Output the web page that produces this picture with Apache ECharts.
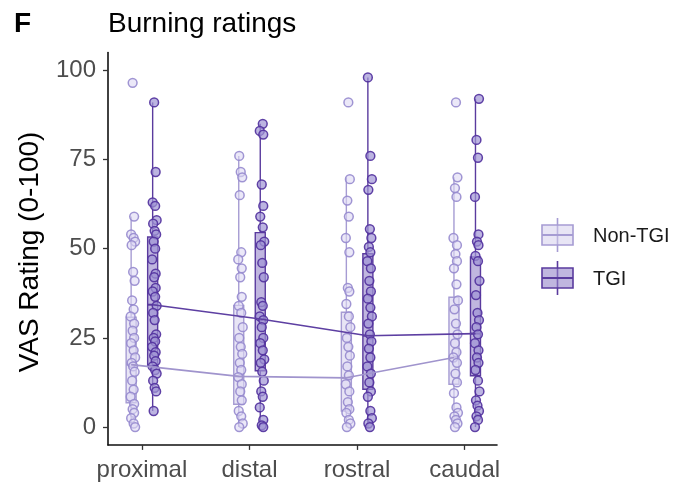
<!DOCTYPE html>
<html><head><meta charset="utf-8">
<script src="https://cdn.jsdelivr.net/npm/echarts@6/dist/echarts.min.js"></script>
<style>html,body{margin:0;padding:0;background:#fff}#c{width:678px;height:486px}</style>
</head><body><div id="c"></div>
<script>
const categories = ['proximal', 'distal', 'rostral', 'caudal'];
const groups = ['Non-TGI', 'TGI'];
const yTicks = [0, 25, 50, 75, 100];

// box statistics per category: [lower whisker, Q1, median, Q3, upper whisker]
const boxNonTGI = [[0, 6.8, 17.5, 30.8, 59], [0, 6.4, 14.2, 34.1, 76], [0, 4.5, 13.8, 32.2, 70], [0, 12, 19.5, 36.4, 70]];
const boxTGI = [[4.5, 17.2, 34.3, 53.3, 91], [0, 15.8, 30.3, 54.5, 85], [0, 10.6, 25.6, 48.6, 98], [0, 14.4, 26.2, 47.7, 92]];

// individual ratings
const nonTGI_proximal = [96.5, 59, 54, 53, 52, 51, 43.5, 41, 35.5, 33, 31, 29, 27, 25, 23.5, 21.5, 19.5, 18, 17, 15.5, 13, 10.5, 8.5, 6.5, 5, 4, 2.5, 1, 0];
const nonTGI_distal = [76, 71.5, 70, 65, 49, 47, 44.5, 42, 36.5, 34, 32, 28, 25, 22.5, 20.5, 18, 16, 14, 12, 10, 7.5, 4.5, 3, 1, 0];
const nonTGI_rostral = [91, 69.5, 63.5, 59, 53, 49, 39, 38, 34.5, 31, 28, 25, 22.5, 20, 17, 14.5, 12, 10, 7, 5, 4, 2, 1, 0];
const nonTGI_caudal = [91, 70, 67, 64.5, 53, 51, 48.5, 46.5, 44.5, 40, 35.5, 33, 29, 26, 23.5, 21, 19.5, 18, 15, 12.5, 9.5, 5.5, 4, 3, 2, 1, 0];
const tgi_proximal = [91, 71.5, 63, 62, 58, 57, 55, 54, 52, 50, 47, 43, 42, 39, 38, 36.5, 34, 32, 30, 26, 25, 24, 22.5, 21, 20, 18.5, 17, 16, 15, 13, 11, 10, 4.5];
const tgi_distal = [85, 83, 82, 68, 62, 59, 56, 52, 51, 46, 42, 35, 34, 31, 30, 28, 25, 23.5, 21.5, 19, 18, 15.5, 13, 10, 8.5, 5.5, 2, 0.5, 0];
const tgi_rostral = [98, 76, 69.5, 66.5, 55.5, 53, 50.5, 49, 46.5, 44.5, 41, 38, 36, 33.5, 31, 29, 26, 24, 22, 19.5, 17, 15, 12.5, 10, 8.5, 4.5, 2.5, 1, 0];
const tgi_caudal = [92, 80.5, 75.5, 64.5, 54, 52, 51, 48, 46.5, 41, 37, 32, 30, 28, 26, 23.5, 21.5, 19.5, 18, 16, 13, 10, 7.5, 6, 4.5, 3, 2, 0];

const ptsNonTGI = [nonTGI_proximal, nonTGI_distal, nonTGI_rostral, nonTGI_caudal];
const ptsTGI = [tgi_proximal, tgi_distal, tgi_rostral, tgi_caudal];

const DODGE = 0.1;
const COL = {
  'Non-TGI': {stroke: '#a69cd3', fill: 'rgba(210,203,236,0.5)', pStroke: 'rgba(150,137,206,0.9)', pFill: 'rgba(222,217,243,0.6)', line: '#a094cd'},
  'TGI': {stroke: '#5a3b9e', fill: 'rgba(150,134,202,0.6)', pStroke: 'rgba(82,50,158,0.92)', pFill: 'rgba(160,148,212,0.7)', line: '#5d3fa2'}
};
const JIT = [1.5, 3, 0, 2.5, 4, 0.5, 2, 3.5, 1, 2.5, -0.5, 3];

function boxData(stats, off) { return stats.map((s, i) => [i + 1 + off].concat(s)); }
function ptData(lists, off) {
  const out = [];
  lists.forEach((l, i) => l.forEach(v => out.push([i + 1 + off, v])));
  return out;
}
function boxSeries(stats, off, c) {
  return {
    type: 'custom', data: boxData(stats, off), z: 2,
    renderItem: function (params, api) {
      const x = api.value(0);
      const pLo = api.coord([x, api.value(1)]), pQ1 = api.coord([x, api.value(2)]),
        pMed = api.coord([x, api.value(3)]), pQ3 = api.coord([x, api.value(4)]), pHi = api.coord([x, api.value(5)]);
      const hw = 5, cx = pMed[0];
      const ls = {stroke: c.stroke, lineWidth: 1.4};
      return {type: 'group', children: [
        {type: 'line', shape: {x1: cx, y1: pHi[1], x2: cx, y2: pQ3[1]}, style: ls},
        {type: 'line', shape: {x1: cx, y1: pQ1[1], x2: cx, y2: pLo[1]}, style: ls},
        {type: 'rect', shape: {x: cx - hw, y: pQ3[1], width: hw * 2, height: pQ1[1] - pQ3[1]}, style: {fill: c.fill, stroke: c.stroke, lineWidth: 1.4}},
        {type: 'line', shape: {x1: cx - hw, y1: pMed[1], x2: cx + hw, y2: pMed[1]}, style: {stroke: c.stroke, lineWidth: 2}}
      ]};
    }
  };
}
function ptSeries(lists, off, c) {
  return {
    type: 'custom', data: ptData(lists, off), z: 3,
    renderItem: function (params, api) {
      const p = api.coord([api.value(0), api.value(1)]);
      return {type: 'circle', shape: {cx: p[0] + JIT[params.dataIndex % JIT.length], cy: p[1], r: 4.4},
        style: {fill: c.pFill, stroke: c.pStroke, lineWidth: 1.5}};
    }
  };
}
function medLine(stats, off, c) {
  return {type: 'line', data: stats.map((s, i) => [i + 1 + off, s[2]]), symbol: 'none', z: 4,
    lineStyle: {color: c.line, width: 1.6}, silent: true};
}

const FONT = 'Liberation Sans, Arial, sans-serif';
const chart = echarts.init(document.getElementById('c'), null, {renderer: 'canvas'});

function legendKey(y, c, label) {
  const x0 = 542, w = 31, h = 20, cx = x0 + w / 2;
  return [
    {type: 'line', shape: {x1: cx, y1: y - h / 2 - 7, x2: cx, y2: y + h / 2 + 7}, style: {stroke: c.stroke, lineWidth: 1.6}},
    {type: 'rect', shape: {x: x0, y: y - h / 2, width: w, height: h}, style: {fill: c.fill, stroke: c.stroke, lineWidth: 1.6}},
    {type: 'line', shape: {x1: x0, y1: y, x2: x0 + w, y2: y}, style: {stroke: c.stroke, lineWidth: 2}},
    {type: 'text', x: 593, y: y + 1, style: {text: label, font: '20px ' + FONT, fill: '#1a1a1a', verticalAlign: 'middle', align: 'left'}}
  ];
}

chart.setOption({
  animation: false,
  backgroundColor: '#fff',
  grid: {left: 108, top: 52.5, width: 389, height: 392.4, containLabel: false},
  xAxis: {
    type: 'value', min: 0.685, max: 4.3,
    axisLine: {show: true, onZero: false, lineStyle: {color: '#111', width: 1.6}},
    axisTick: {show: true, customValues: [1, 2, 3, 4], length: 5, lineStyle: {color: '#333', width: 1.3}},
    axisLabel: {customValues: [1, 2, 3, 4], formatter: v => categories[Math.round(v) - 1] || '', fontSize: 24, color: '#4d4d4d', fontFamily: FONT, margin: 13},
    splitLine: {show: false}
  },
  yAxis: {
    type: 'value', min: -5, max: 105,
    axisLine: {show: true, onZero: false, lineStyle: {color: '#111', width: 1.6}},
    axisTick: {show: true, customValues: yTicks, length: 5, lineStyle: {color: '#333', width: 1.3}},
    axisLabel: {customValues: yTicks, fontSize: 24, color: '#4d4d4d', fontFamily: FONT, margin: 12},
    splitLine: {show: false}
  },
  series: [
    boxSeries(boxNonTGI, -DODGE, COL['Non-TGI']),
    boxSeries(boxTGI, DODGE, COL['TGI']),
    ptSeries(ptsNonTGI, -DODGE, COL['Non-TGI']),
    ptSeries(ptsTGI, DODGE, COL['TGI']),
    medLine(boxNonTGI, -DODGE, COL['Non-TGI']),
    medLine(boxTGI, DODGE, COL['TGI'])
  ],
  graphic: [
    {type: 'text', x: 14, y: 24, style: {text: 'F', font: 'bold 28px ' + FONT, fill: '#000', verticalAlign: 'middle'}},
    {type: 'text', x: 108, y: 24, style: {text: 'Burning ratings', font: '28px ' + FONT, fill: '#000', verticalAlign: 'middle'}},
    {type: 'text', x: 30, y: 252, rotation: Math.PI / 2, style: {text: 'VAS Rating (0-100)', font: '28px ' + FONT, fill: '#000', align: 'center', verticalAlign: 'middle'}}
  ].concat(legendKey(235, COL['Non-TGI'], groups[0]), legendKey(278, COL['TGI'], groups[1]))
});
</script>
</body></html>
